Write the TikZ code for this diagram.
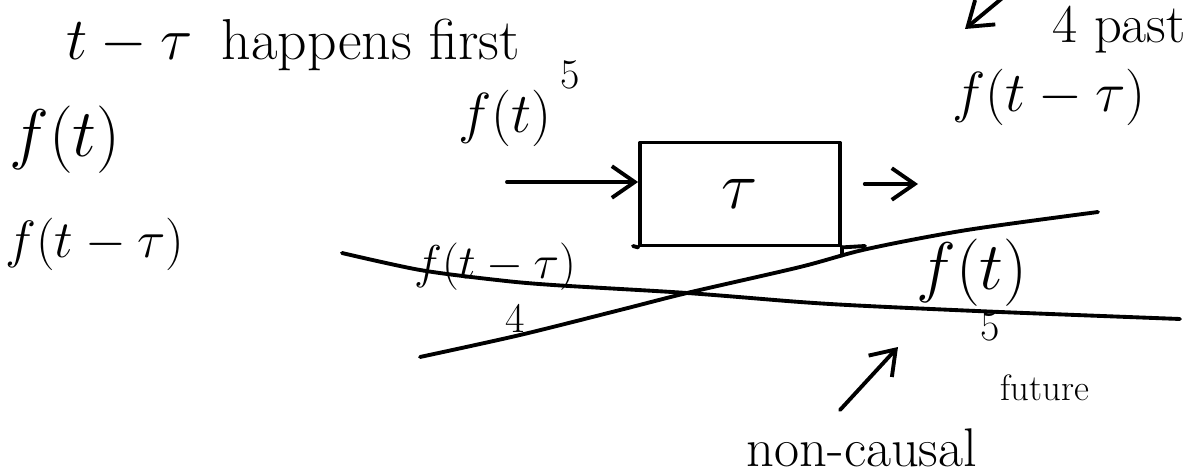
\documentclass[tikz,border=0pt]{standalone}
\usetikzlibrary{arrows.meta}

\tikzset{
  hand/.style={font=\fontsize{20}{24}\selectfont,inner sep=0pt,scale=1.55},
  big hand/.style={font=\fontsize{20}{24}\selectfont,inner sep=0pt,scale=1.85},
  small hand/.style={font=\fontsize{20}{24}\selectfont,inner sep=0pt,scale=1.2},
  stroke/.style={line width=2.2pt,line cap=round,line join=round}
}

\begin{document}
\begin{tikzpicture}[x=0.02cm,y=-0.02cm,>={Straight Barb[length=13pt,width=18pt]}]
\useasboundingbox (0,0) rectangle (1192,475);
% notes on the left
\node[hand,scale=1.06] (first) at (293,45) {$t-\tau$\enspace happens first};
\node[big hand] (ft) at (65,140) {$f(t)$};
\node[hand,scale=0.93] (ftau) at (95,244) {$f(t-\tau)$};
% delay block
\node[stroke,draw,minimum width=4cm,minimum height=2.06cm] (delay) at (740,194) {};
\node[big hand] (tau) at (delay.center) {$\tau$};
\node[hand] (fin) at (505,118) {$f(t)$};
\node[small hand] (fivein) at (570,75) {5};
\node[hand] (fout) at (1049,97) {$f(t-\tau)$};
\node[hand,anchor=west] (past) at (1052,30) {4\ past};
\coordinate (in) at (507,182);
\coordinate (out) at (918,184);
\draw[stroke,->] (in) -- (in -| delay.west);
\draw[stroke,->,shorten <=13] (out -| delay.east) -- (out);
\draw[stroke] (633,246) -- (delay.south west);
\draw[stroke] (delay.south east) -- (865,246);
\draw[stroke] (delay.south east) -- ++(0,8);
\coordinate (pasttail) at (1012,-10);
\coordinate (pasttip) at (965,29);
\draw[stroke,->] (pasttail) -- (pasttip);
% crossed time lines
\node[hand,scale=0.84] (fpast) at (495,267) {$f(t-\tau)$};
\node[small hand] (four) at (515,318) {4};
\node[big hand] (ffut) at (972,273) {$f(t)$};
\node[small hand] (fivefut) at (990,327) {5};
\draw[stroke] plot[smooth] coordinates {(342,253) (420,270) (497,280) (553,285) (687,293) (800,302) (867,306) (1000,312) (1180,319)};
\draw[stroke] plot[smooth] coordinates {(420,357) (520,335) (620,310) (687,293) (800,267) (867,249) (967,230) (1098,212)};
\node[small hand,scale=0.87] (future) at (1045,388) {future};
\node[hand] (noncausal) at (862,448) {non-causal};
\coordinate (nctail) at (840,410);
\coordinate (nctip) at (898,347);
\draw[stroke,->] (nctail) -- (nctip);
\end{tikzpicture}
\end{document}
